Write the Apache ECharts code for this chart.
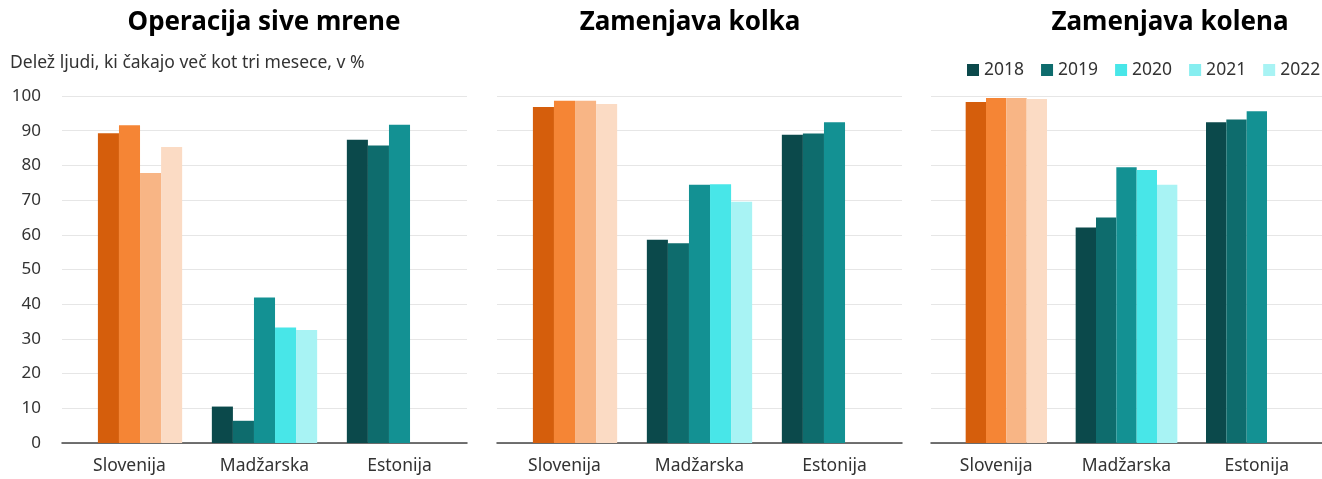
<!DOCTYPE html>
<html>
<head>
<meta charset="utf-8">
<script src="https://cdn.jsdelivr.net/npm/echarts@6/dist/echarts.min.js"></script>
<style>
  html, body { margin: 0; padding: 0; background: #fff; }
  #chart { width: 1322px; height: 479px; }
</style>
</head>
<body>
<div id="chart"></div>
<script>
const categories = ['Slovenija', 'Madžarska', 'Estonija'];
const years = ['2018', '2019', '2020', '2021', '2022'];
const panelTitles = ['Operacija sive mrene', 'Zamenjava kolka', 'Zamenjava kolena'];
const yTicks = [0, 10, 20, 30, 40, 50, 60, 70, 80, 90, 100];

// values per year: [Slovenija, Madžarska, Estonija]
const cataract = [
  [null, 10.5, 87.4],
  [89.3, 6.4, 85.7],
  [91.6, 41.9, 91.7],
  [77.8, 33.3, null],
  [85.3, 32.6, null]
];
const hip = [
  [null, 58.6, 88.8],
  [96.8, 57.6, 89.2],
  [98.6, 74.4, 92.4],
  [98.6, 74.6, null],
  [97.7, 69.5, null]
];
const knee = [
  [null, 62.1, 92.4],
  [98.3, 65.0, 93.2],
  [99.4, 79.5, 95.6],
  [99.4, 78.7, null],
  [99.1, 74.4, null]
];

const tealColors = ['#0b494b', '#0e6c6d', '#139193', '#48e6e8', '#a8f3f4'];
const orangeColors = ['#d55e0c', '#d55e0c', '#f58535', '#f8b585', '#fbdbc4'];
const legendColors = ['#0b494b', '#0e6c6d', '#48e6e8', '#86eef0', '#a8f3f4'];

const panels = [cataract, hip, knee];
const font = 'Noto Sans';

const grids = [
  { left: 62, top: 96, width: 405, height: 347 },
  { left: 497, top: 96, width: 405, height: 347 },
  { left: 931, top: 96, width: 405, height: 347 }
];
const titleX = [259, 685, 1165];

const series = [];
panels.forEach((panel, p) => {
  panel.forEach((vals, k) => {
    series.push({
      name: years[k],
      type: 'bar',
      xAxisIndex: p,
      yAxisIndex: p,
      barGap: '0%',
      barCategoryGap: '22%',
      itemStyle: { color: tealColors[k] },
      data: vals.map((v, i) => (i === 0 && v != null)
        ? { value: v, itemStyle: { color: orangeColors[k] } }
        : v)
    });
  });
});

const chart = echarts.init(document.getElementById('chart'));
chart.setOption({
  animation: false,
  textStyle: { fontFamily: font },
  title: panelTitles.map((t, i) => ({
    text: t,
    left: titleX[i],
    top: 5,
    textAlign: 'center',
    textStyle: { fontFamily: font, fontSize: 26, fontWeight: 'bold', color: '#000' }
  })),
  graphic: [{
    type: 'text',
    left: 10,
    top: 54,
    style: {
      text: 'Delež ljudi, ki čakajo več kot tri mesece, v %',
      font: '17.5px "Noto Sans"',
      fill: '#333'
    }
  }],
  legend: {
    left: 962,
    top: 56,
    width: 400,
    itemWidth: 12,
    itemHeight: 12,
    itemGap: 17,
    textStyle: { fontFamily: font, fontSize: 17.5, color: '#333' },
    data: years.map((y, k) => ({ name: y, icon: 'rect', itemStyle: { color: legendColors[k] } }))
  },
  grid: grids,
  xAxis: grids.map((g, i) => ({
    type: 'category',
    gridIndex: i,
    data: categories,
    axisTick: { show: false },
    axisLine: { lineStyle: { color: '#444', width: 1.5 } },
    axisLabel: { fontSize: 17.5, color: '#333', margin: 14, fontFamily: font }
  })),
  yAxis: grids.map((g, i) => ({
    type: 'value',
    gridIndex: i,
    min: yTicks[0],
    max: yTicks[yTicks.length - 1],
    interval: 10,
    axisLine: { show: false },
    axisTick: { show: false },
    splitLine: { lineStyle: { color: '#e6e6e6', width: 1 } },
    axisLabel: { show: i === 0, fontSize: 17, color: '#333', margin: 21, fontFamily: font }
  })),
  series: series
});
</script>
</body>
</html>
